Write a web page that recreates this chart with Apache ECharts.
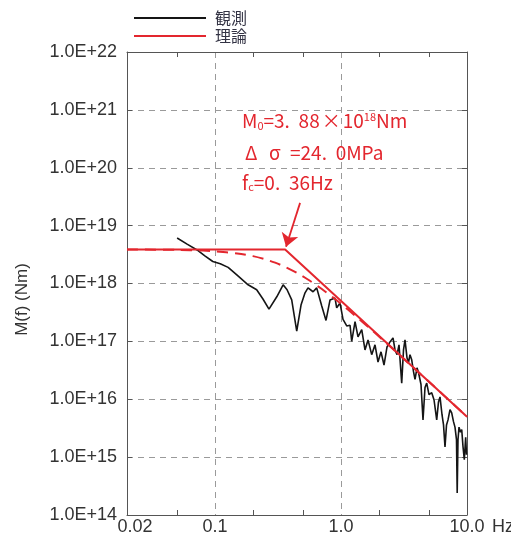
<!DOCTYPE html>
<html>
<head>
<meta charset="utf-8">
<script src="https://cdn.jsdelivr.net/npm/echarts@6.0.0/dist/echarts.min.js"></script>
<style>
  html, body { margin: 0; padding: 0; background: #fff; }
  #main { width: 511px; height: 536px; }
</style>
</head>
<body>
<div id="main"></div>
<script>
var freqObs = [0.050, 0.060, 0.072, 0.083, 0.096, 0.110, 0.127, 0.152, 0.183, 0.214,
  0.240, 0.268, 0.309, 0.347, 0.373, 0.406, 0.445, 0.482, 0.518, 0.547,
  0.600, 0.641, 0.703, 0.760, 0.818, 0.896, 0.924, 0.982, 1.037, 1.110,
  1.179, 1.216, 1.292, 1.364, 1.460, 1.550, 1.638, 1.752, 1.861, 1.966,
  2.077, 2.194, 2.318, 2.448, 2.586, 2.683, 2.783, 2.886, 3.032, 3.133,
  3.220, 3.340, 3.433, 3.528, 3.640, 3.762, 3.866, 4.010, 4.122, 4.314,
  4.475, 4.642, 4.788, 4.993, 5.246, 5.472, 5.748, 5.940, 6.106, 6.334,
  6.510, 6.690, 6.877, 7.068, 7.329, 7.560, 7.812, 8.029, 8.252, 8.36,
  8.482, 8.64, 8.88, 9.08, 9.30, 9.52, 9.76, 9.91];
var momentObs = [6.1e18, 4.8e18, 3.8e18, 3.0e18, 2.4e18, 2.2e18, 1.9e18, 1.35e18, 9.5e17, 7.8e17,
  5.4e17, 3.6e17, 5.9e17, 9.5e17, 7.8e17, 5.2e17, 1.5e17, 4.3e17, 6.9e17, 8.4e17,
  7.2e17, 8.4e17, 4.1e17, 2.3e17, 5.2e17, 5.6e17, 3.8e17, 4.6e17, 2.4e17, 1.85e17,
  1.9e17, 1.0e17, 2.2e17, 1.2e17, 1.6e17, 7.1e16, 1.06e17, 5.9e16, 8.7e16, 4.4e16,
  6.6e16, 3.9e16, 8.0e16, 9.8e16, 1.15e17, 7.1e16, 5.9e16, 8.7e16, 1.9e16, 7.1e16,
  1.06e17, 5.2e16, 4.3e16, 5.9e16, 4.8e16, 3.0e16, 2.2e16, 3.5e16, 2.9e16, 1.8e16,
  4.4e15, 1.6e16, 1.9e16, 1.2e16, 1.3e16, 9.8e15, 4.4e15, 9.0e15, 1.1e16, 5.4e15,
  3.6e15, 1.5e15, 3.6e15, 4.4e15, 6.6e15, 5.8e15, 4.1e15, 3.3e15, 2.0e15, 2.4e14,
  2.0e15, 3.3e15, 2.7e15, 3.0e15, 1.5e15, 9.0e14, 2.2e15, 1.1e15];

// theoretical spectrum: flat level + f^-2 asymptote
var freqTheory = [0.02, 0.36, 10];
var momentTheory = [3.88e18, 3.88e18, 5.0e15];

// smooth omega-square curve (dashed)
var freqModel = [0.02, 0.05, 0.08, 0.1, 0.15, 0.2, 0.25, 0.3, 0.36, 0.45, 0.55,
  0.7, 0.85, 1.0, 1.3, 1.7, 2.2, 3.0, 4.0, 5.5, 7.0, 10];
var momentModel = [3.87e18, 3.81e18, 3.70e18, 3.60e18, 3.31e18, 2.97e18, 2.62e18, 2.29e18,
  1.94e18, 1.51e18, 1.16e18, 8.1e17, 5.9e17, 4.45e17, 2.76e17, 1.67e17, 1.01e17,
  5.5e16, 3.1e16, 1.66e16, 1.02e16, 5.0e15];

// arrow pointing at the corner frequency
var arrowFrom = [0.473, 2.47e19];
var arrowTo = [0.366, 4.3e18];

var xTickValues = [0.02, 0.1, 1, 10];
var xTickLabels = ['0.02', '0.1', '1.0', '10.0'];
var xMinorTicks = [0.05, 0.2, 0.5, 2, 5];

function zip(xs, ys) {
  return xs.map(function (x, i) { return [x, ys[i]]; });
}

var red = '#e3262e';
var labelFont = 'Liberation Sans, Arial, sans-serif';
var jpFont = 'Noto Sans CJK JP';
var gridDash = { color: '#9a9a9a', width: 1, type: [6, 5] };

var chart = echarts.init(document.getElementById('main'));

var txt = { fontSize: 19, fill: red, fontFamily: jpFont };
var sub = { fontSize: 11, fill: red, fontFamily: jpFont, verticalAlign: 'bottom', padding: [9, 0, 0, 0] };
var sup = { fontSize: 11, fill: red, fontFamily: jpFont, verticalAlign: 'top', padding: [0, 0, 9, 0] };
var dot = { fontSize: 19, fill: red, fontFamily: jpFont, width: 14 };
var greek = { fontSize: 19, fill: red, fontFamily: jpFont, width: 21, padding: [0, 0, 0, 3] };
var times = { fontSize: 19, fill: red, fontFamily: jpFont, padding: [0, 2, 0, 2] };

var option = {
  animation: false,
  backgroundColor: '#fff',
  grid: {
    left: 127, right: 44, top: 52, bottom: 21,
    outerBoundsMode: 'none'
  },
  legend: {
    data: ['観測', '理論'],
    orient: 'vertical',
    left: 129,
    top: 5,
    icon: 'rect',
    itemWidth: 72,
    itemHeight: 2,
    itemGap: 2,
    selectedMode: false,
    textStyle: {
      fontSize: 16,
      lineHeight: 16,
      color: '#333344',
      fontFamily: jpFont,
      padding: [0, 0, 0, 4]
    }
  },
  xAxis: [
    {
      type: 'log', logBase: 10, min: 0.02, max: 10,
      position: 'bottom',
      axisLine: { show: true, lineStyle: { color: '#555', width: 1 } },
      axisTick: { show: false, customValues: xTickValues },
      splitLine: { show: true, lineStyle: gridDash },
      axisLabel: {
        customValues: xTickValues,
        fontSize: 18, color: '#333', fontFamily: labelFont, margin: 3,
        formatter: function (v) {
          var best = 0;
          for (var i = 1; i < xTickValues.length; i++) {
            if (Math.abs(Math.log10(v) - Math.log10(xTickValues[i])) <
                Math.abs(Math.log10(v) - Math.log10(xTickValues[best]))) best = i;
          }
          return best === 0 ? '{m|' + xTickLabels[0] + '}' : xTickLabels[best];
        },
        rich: { m: { fontSize: 18, color: '#333', fontFamily: labelFont, padding: [0, 0, 0, 16] } }
      },
      name: 'Hz',
      nameLocation: 'end',
      nameGap: 25,
      nameTextStyle: { fontSize: 18, color: '#333', fontFamily: labelFont, verticalAlign: 'top', padding: [3, 0, 0, 0] }
    },
    {
      type: 'log', logBase: 10, min: 0.02, max: 10,
      position: 'bottom',
      axisLine: { show: false },
      axisLabel: { show: false },
      splitLine: { show: false },
      axisTick: { show: true, inside: true, length: 5, customValues: xMinorTicks, lineStyle: { color: '#555' } }
    },
    {
      type: 'log', logBase: 10, min: 0.02, max: 10,
      position: 'top',
      axisLine: { show: true, lineStyle: { color: '#555', width: 1 } },
      axisLabel: { show: false },
      splitLine: { show: false },
      axisTick: { show: true, inside: true, length: 5, customValues: xMinorTicks, lineStyle: { color: '#555' } }
    }
  ],
  yAxis: [
    {
      type: 'log', logBase: 10, min: 1e14, max: 1e22, interval: 1,
      position: 'left',
      axisLine: { show: true, lineStyle: { color: '#555', width: 1 } },
      axisTick: { show: true, inside: true, length: 5, lineStyle: { color: '#555' } },
      splitLine: { show: true, lineStyle: gridDash },
      axisLabel: {
        fontSize: 18, color: '#333', fontFamily: labelFont, margin: 10,
        formatter: function (v) {
          return '1.0E+' + Math.round(Math.log10(v));
        }
      },
      name: 'M(f) (Nm)',
      nameLocation: 'middle',
      nameGap: 96,
      nameTextStyle: { fontSize: 17, color: '#333', fontFamily: labelFont, padding: [0, 32, 0, 0] }
    },
    {
      type: 'log', logBase: 10, min: 1e14, max: 1e22, interval: 1,
      position: 'right',
      axisLine: { show: true, lineStyle: { color: '#555', width: 1 } },
      axisTick: { show: true, inside: true, length: 5, lineStyle: { color: '#555' } },
      splitLine: { show: false },
      axisLabel: { show: false }
    }
  ],
  series: [
    {
      name: '観測',
      type: 'line',
      xAxisIndex: 0, yAxisIndex: 0,
      symbol: 'none',
      data: zip(freqObs, momentObs),
      lineStyle: { color: '#151515', width: 1.6 },
      itemStyle: { color: '#151515' },
      z: 2
    },
    {
      name: '理論(ω²)',
      type: 'line',
      xAxisIndex: 0, yAxisIndex: 0,
      symbol: 'none',
      smooth: 0.3,
      data: zip(freqModel, momentModel),
      lineStyle: { color: red, width: 2, type: [11, 7] },
      itemStyle: { color: red },
      z: 3
    },
    {
      name: '理論',
      type: 'line',
      xAxisIndex: 0, yAxisIndex: 0,
      symbol: 'none',
      data: zip(freqTheory, momentTheory),
      lineStyle: { color: red, width: 2 },
      itemStyle: { color: red },
      z: 4,
      markLine: {
        silent: true,
        symbol: ['none', 'arrow'],
        symbolSize: 13,
        label: { show: false },
        lineStyle: { color: red, width: 1.8, type: 'solid' },
        data: [[{ coord: arrowFrom }, { coord: arrowTo }]]
      }
    }
  ],
  graphic: [
    {
      type: 'text',
      left: 242, top: 111,
      style: {
        text: '{a|M}{s|0}{a|=3}{d|.}{a|88}{x|×}{a|10}{p|18}{a|Nm}',
        rich: { a: txt, s: sub, p: sup, d: dot, x: times }
      }
    },
    {
      type: 'text',
      left: 245, top: 143,
      style: {
        text: '{g|Δ}{g|σ}{a|=24}{d|.}{a|0MPa}',
        rich: { a: txt, d: dot, g: greek }
      }
    },
    {
      type: 'text',
      left: 242, top: 173,
      style: {
        text: '{a|f}{s|c}{a|=0}{d|.}{a|36Hz}',
        rich: { a: txt, s: sub, d: dot }
      }
    }
  ]
};

chart.setOption(option);
</script>
</body>
</html>
